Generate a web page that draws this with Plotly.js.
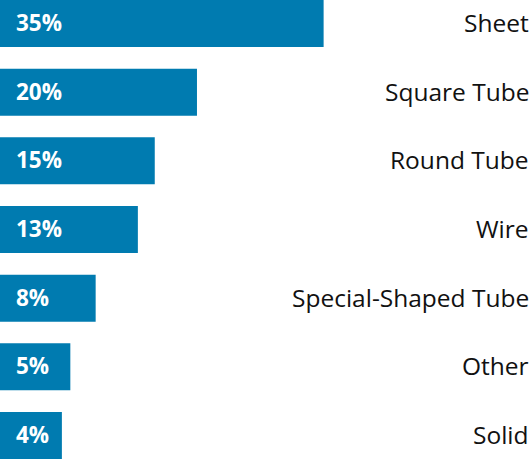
<!DOCTYPE html>
<html>
<head>
<meta charset="utf-8">
<script src="https://cdn.plot.ly/plotly-3.0.1.min.js"></script>
<style>
html,body{margin:0;padding:0;background:#fff;}
#chart{width:529px;height:460px;}
</style>
</head>
<body>
<div id="chart"></div>
<script>
// Data
var categories = ["Sheet", "Square Tube", "Round Tube", "Wire", "Special-Shaped Tube", "Other", "Solid"];
var shares = [35, 20, 15, 13, 8, 5, 4];
var shareLabels = ["35%", "20%", "15%", "13%", "8%", "5%", "4%"];

// bars start a little left of zero (design offset of the original graphic)
var X0 = -3.33;

var trace = {
  type: "bar",
  orientation: "h",
  y: categories,
  x: shares.map(function (v) { return v - X0; }),
  base: X0,
  marker: { color: "#007bb0", line: { width: 0 } },
  hoverinfo: "none",
  showlegend: false
};

var annotations = [];
categories.forEach(function (c, i) {
  annotations.push({
    xref: "x", yref: "y", x: X0, y: c,
    xanchor: "left", yanchor: "middle", xshift: 14, yshift: 1,
    text: shareLabels[i], showarrow: false,
    font: { family: "'Open Sans', sans-serif", size: 22.5, color: "#ffffff", weight: 700 }
  });
  annotations.push({
    xref: "paper", yref: "y", x: 1, y: c,
    xanchor: "right", yanchor: "middle", xshift: 2, yshift: 1,
    text: c, showarrow: false,
    font: { family: "'Open Sans', sans-serif", size: 24.5, color: "#111111", weight: 400 }
  });
});

var layout = {
  width: 529, height: 460,
  margin: { l: 0, r: 0, t: 0, b: 0, pad: 0 },
  paper_bgcolor: "#ffffff", plot_bgcolor: "#ffffff",
  bargap: 0.316,
  xaxis: { range: [X0, X0 + 529 / 8.443], visible: false, fixedrange: true },
  yaxis: {
    type: "category", categoryorder: "array", categoryarray: categories,
    range: [6.357, -0.342], autorange: false,
    visible: false, fixedrange: true
  },
  annotations: annotations
};

Plotly.newPlot("chart", [trace], layout, { displayModeBar: false, staticPlot: true });
</script>
</body>
</html>
